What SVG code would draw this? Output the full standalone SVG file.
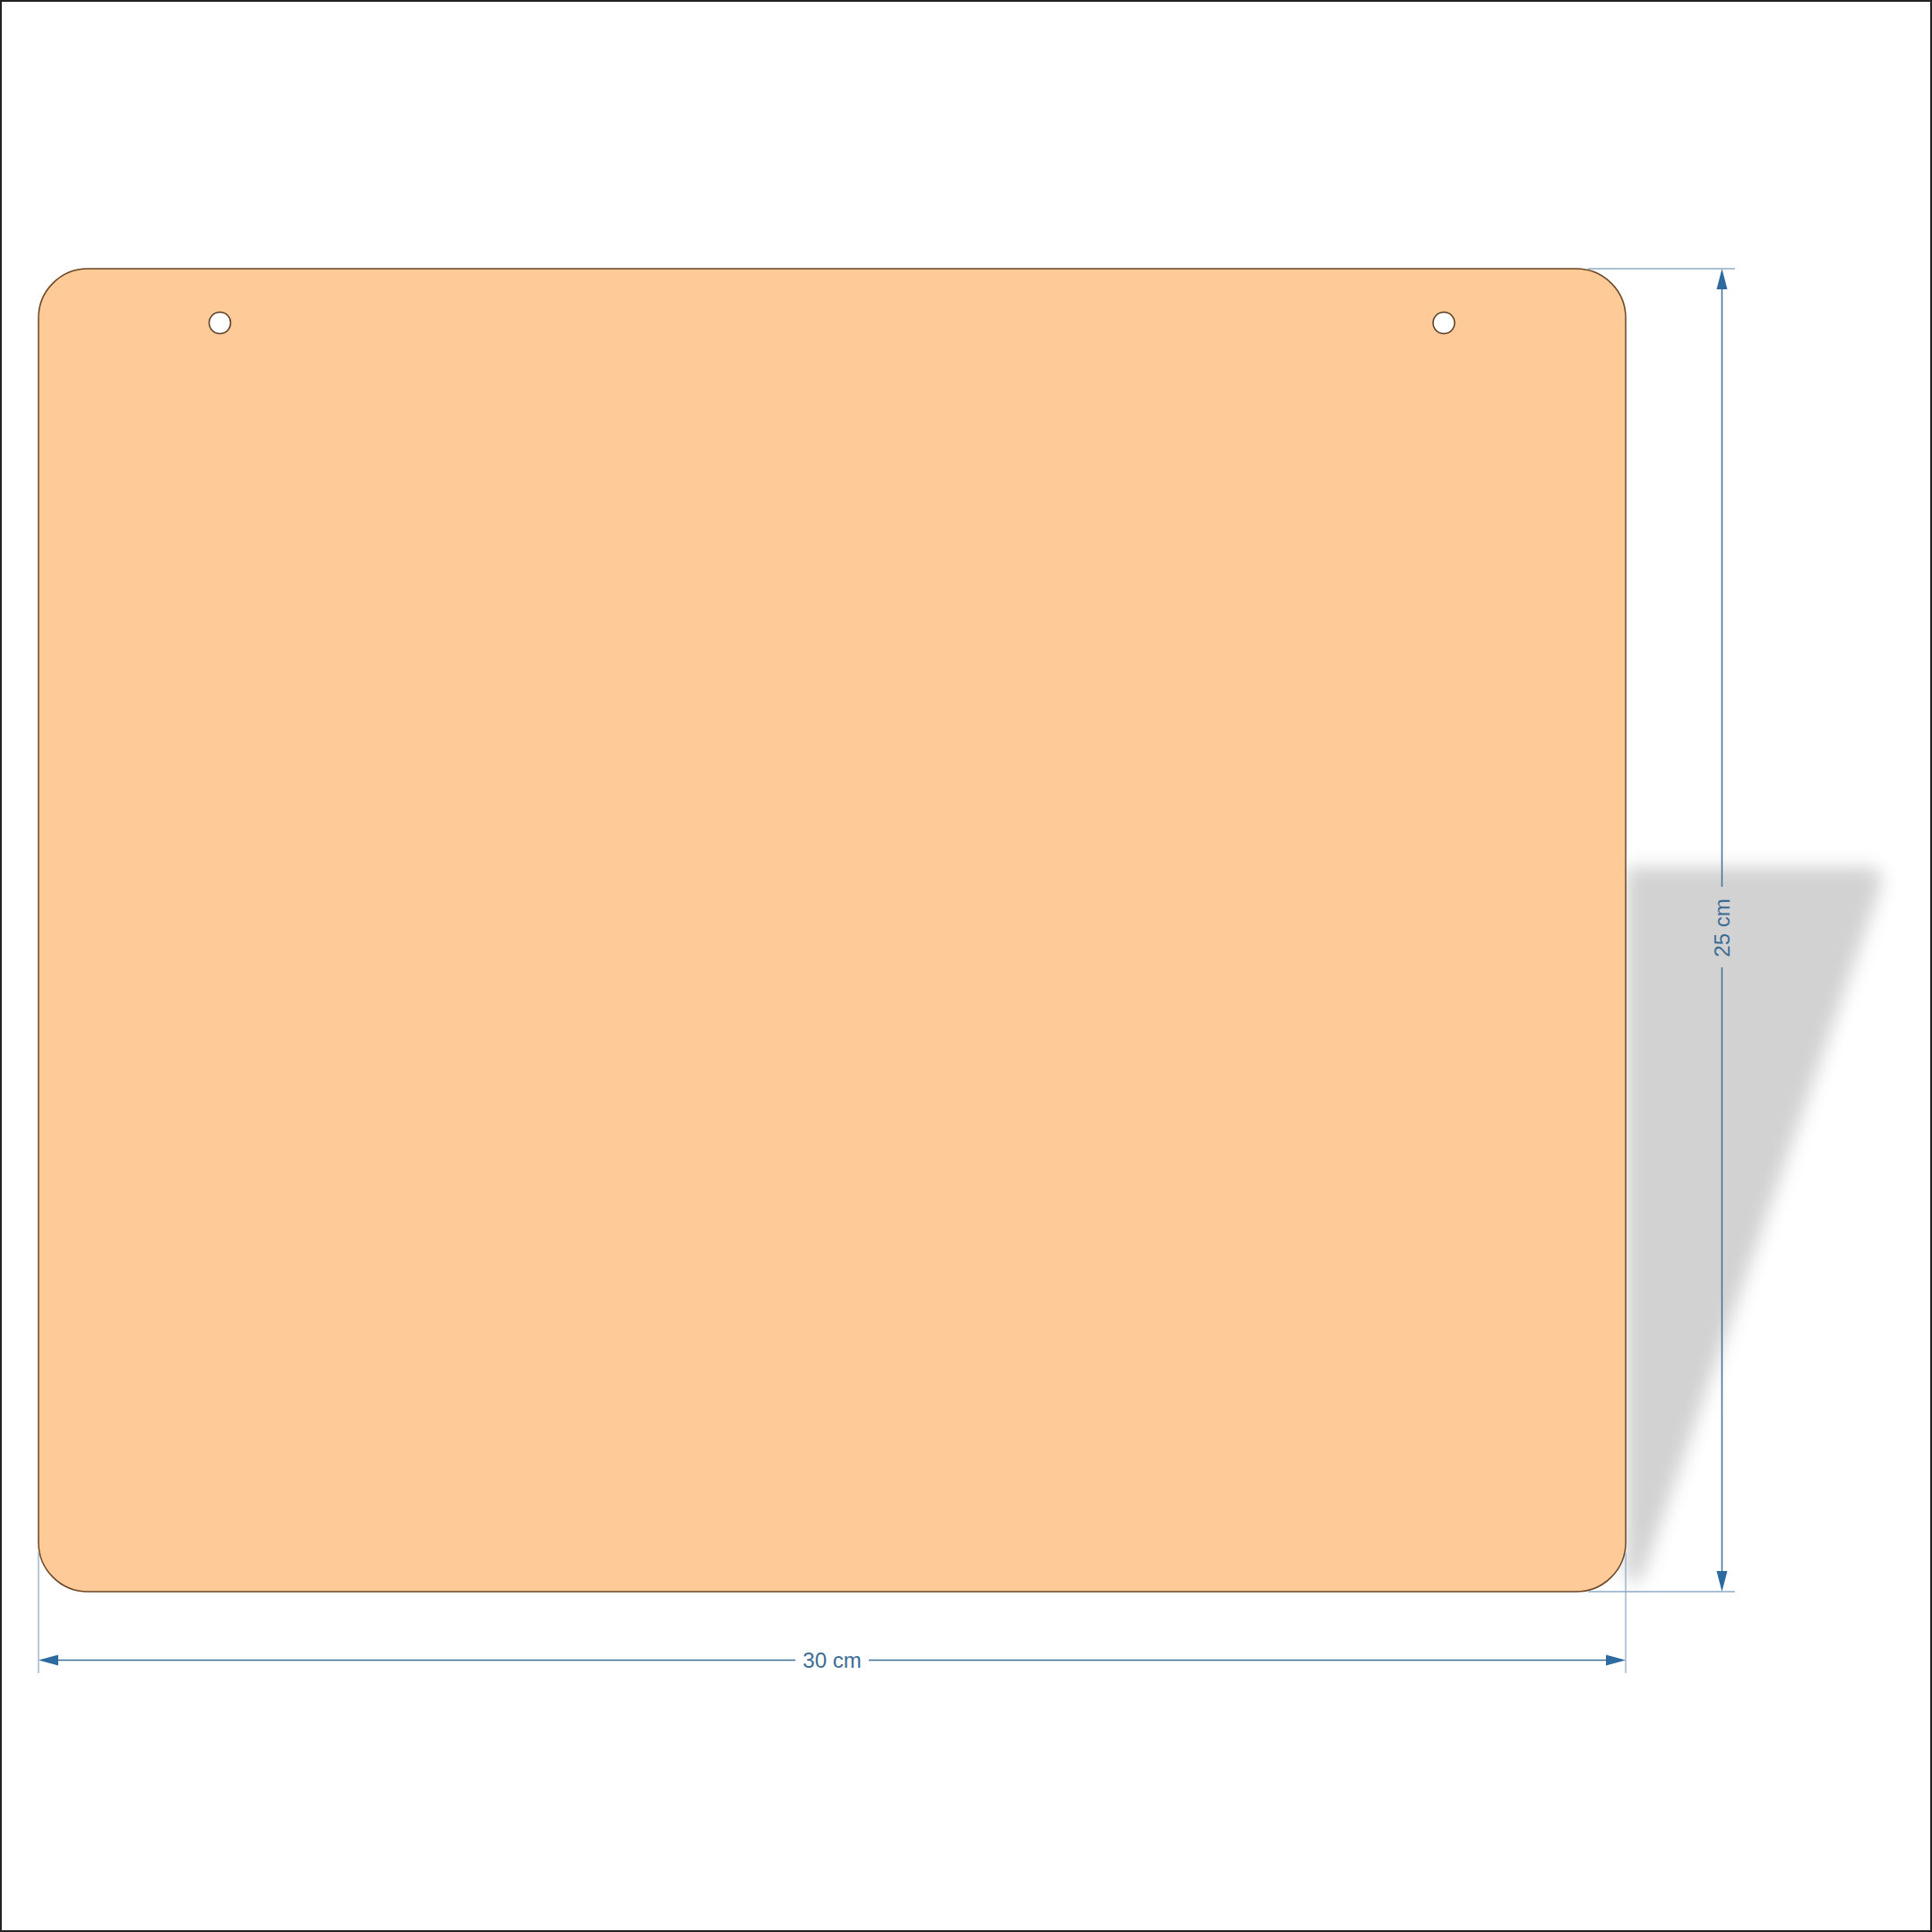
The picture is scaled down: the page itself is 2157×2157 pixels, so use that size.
<svg xmlns="http://www.w3.org/2000/svg" width="2157" height="2157" viewBox="0 0 2157 2157">
<style>
.ext{stroke:#8fadc4;stroke-width:1.3;fill:none}
.dim{stroke:#3f6f94;stroke-width:1.5;fill:none}
.arr{fill:#2c6aa0}
.lbl{font-family:"Liberation Sans",Arial,sans-serif;font-size:24px;fill:#3a6c94}
.hole{fill:#ffffff;stroke:#5a3a1e;stroke-width:1.5}
</style>
<defs>
<filter id="blur" x="-20%" y="-20%" width="140%" height="140%"><feGaussianBlur stdDeviation="10"/></filter>
</defs>
<rect x="0" y="0" width="2157" height="2157" fill="#ffffff"/>
<rect x="1" y="1" width="2155" height="2155" fill="none" stroke="#222" stroke-width="2"/>
<g id="shadow">
<path d="M1815,968 L2085,968 Q2108,970 2098,995 L1832,1765 L1815,1765 Z" fill="#d2d2d2" filter="url(#blur)"/>
</g>
<g id="plate">
<rect x="43" y="300" width="1772" height="1477" rx="55" ry="55" fill="#fdca98" stroke="#6b4522" stroke-width="1.5"/>
<circle class="hole" cx="245.5" cy="360.5" r="12"/>
<circle class="hole" cx="1612" cy="360.5" r="12"/>
</g>
<g id="connectors">
<line class="ext" x1="1773" y1="300" x2="1937" y2="300"/>
<line class="ext" x1="1773" y1="1777" x2="1937" y2="1777"/>
<line class="ext" x1="43" y1="1733" x2="43" y2="1868"/>
<line class="ext" x1="1815" y1="1733" x2="1815" y2="1868"/>
<line class="dim" x1="1922.5" y1="318" x2="1922.5" y2="990"/>
<line class="dim" x1="1922.5" y1="1080" x2="1922.5" y2="1759"/>
<polygon class="arr" points="1922.5,300 1916.5,323 1928.5,323"/>
<polygon class="arr" points="1922.5,1777 1916.5,1754 1928.5,1754"/>
<line class="dim" x1="62" y1="1853.5" x2="888" y2="1853.5"/>
<line class="dim" x1="970" y1="1853.5" x2="1796" y2="1853.5"/>
<polygon class="arr" points="43,1853.5 65,1847.5 65,1859.5"/>
<polygon class="arr" points="1815,1853.5 1793,1847.5 1793,1859.5"/>
</g>
<g id="labels">
<text class="lbl" x="929" y="1862" text-anchor="middle">30 cm</text>
<text class="lbl" x="0" y="0" text-anchor="middle" transform="translate(1931,1036) rotate(-90)">25 cm</text>
</g>
</svg>
